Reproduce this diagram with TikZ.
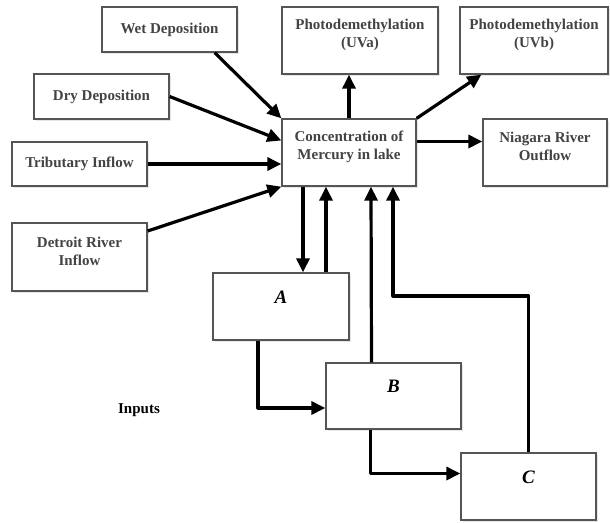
\documentclass[tikz,border=0pt]{standalone}
\usepackage{fontspec}
\setmainfont{Liberation Serif}
\usetikzlibrary{arrows.meta,shadows}
\definecolor{boxgray}{HTML}{555555}
\definecolor{textgray}{HTML}{434343}
\tikzset{
  box/.style={draw=boxgray, line width=1.3pt, fill=white, align=center,
    font=\fontsize{15}{18}\selectfont\bfseries, text=textgray, inner sep=0pt,
    drop shadow={opacity=0.2, shadow xshift=1.5pt, shadow yshift=-1.5pt}},
  txt/.style={font=\fontsize{15}{18}\selectfont\bfseries, text=textgray, align=center},
  store/.style={box, font=\fontsize{19}{22}\selectfont\bfseries\itshape, text=black, text depth=19pt},
  flow/.style={-{Triangle[length=14pt,width=13pt]}, line width=3.2pt, line join=round}
}
\begin{document}
\begin{tikzpicture}[x=1pt, y=-1pt]
  \useasboundingbox (0,0) rectangle (610,522);
  % inputs
  \node[box, minimum width=135pt, minimum height=45pt] (wet) at (169.5,29.5) {Wet Deposition};
  \node[box, minimum width=135pt, minimum height=45pt] (dry) at (101.5,96.5) {Dry Deposition};
  \node[box, minimum width=135pt, minimum height=44pt] (trib) at (79.5,164) {Tributary Inflow};
  \node[box, minimum width=135pt, minimum height=68pt,
    label={[txt, yshift=6pt]center:{Detroit River\\Inflow}}] (detroit) at (79.5,257) {};
  % lake and outputs
  \node[box, minimum width=134pt, minimum height=67pt,
    label={[txt, yshift=6pt]center:{Concentration of\\Mercury in lake}}] (conc) at (349,152.5) {};
  \node[box, minimum width=156pt, minimum height=67pt,
    label={[txt, yshift=6pt]center:{Photodemethylation\\(UVa)}}] (uva) at (360,40.5) {};
  \node[box, minimum width=148pt, minimum height=67pt,
    label={[txt, yshift=6pt]center:{Photodemethylation\\(UVb)}}] (uvb) at (534,40.5) {};
  \node[box, minimum width=124pt, minimum height=67pt,
    label={[txt, yshift=6pt]center:{Niagara River\\Outflow}}] (niag) at (545,152.5) {};
  % sediment compartments
  \node[store, minimum width=136pt, minimum height=67pt] (A) at (281,306.5) {A};
  \node[store, minimum width=135pt, minimum height=66pt] (B) at (393.5,396) {B};
  \node[store, minimum width=135pt, minimum height=67pt] (C) at (528.5,486.5) {C};
  \node[font=\fontsize{15}{18}\selectfont\bfseries] (inputs) at (139,410) {Inputs};

  \draw[flow] ([xshift=-23pt]wet.south east) -- (conc.north west);
  \draw[flow] (dry.east) -- ([yshift=12pt]conc.west);
  \draw[flow] (trib.east) -- (trib.east -| conc.west);
  \draw[flow] ([yshift=26pt]detroit.east) -- (conc.south west);
  \draw[flow] (conc.north) -- (conc.north |- uva.south);
  \draw[flow] (conc.north east) -- ([xshift=22pt]uvb.south west);
  \draw[flow] ([yshift=11pt]conc.east) -- ([yshift=11pt]niag.west);
  \draw[flow] ([xshift=-46pt]conc.south) -- ([xshift=22pt]A.north);
  \draw[flow] ([xshift=45pt]A.north) -- ([xshift=-23pt]conc.south);
  \draw[flow] ([xshift=-22pt]B.north) -- ([xshift=22pt]conc.south);
  \draw[flow] (C.north) -- (C.north |- 0,296) -| ([xshift=44pt]conc.south);
  \draw[flow] ([xshift=-23pt]A.south) |- ([yshift=-12pt]B.west);
  \draw[flow] ([xshift=-23pt]B.south) |- ([yshift=13pt]C.west);
\end{tikzpicture}
\end{document}
